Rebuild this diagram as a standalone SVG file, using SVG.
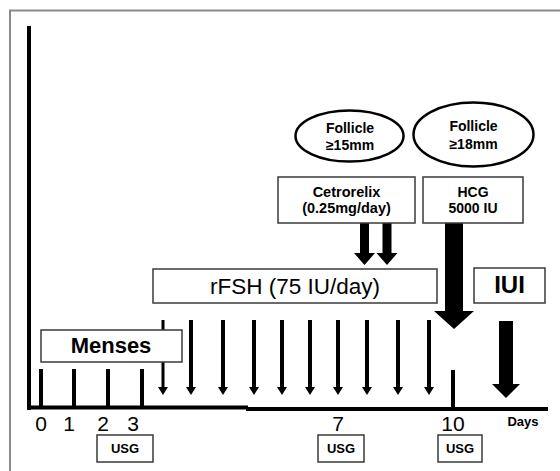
<svg xmlns="http://www.w3.org/2000/svg" width="560" height="471" viewBox="0 0 560 471">
<defs>
<marker id="dh" markerUnits="userSpaceOnUse" markerWidth="8" markerHeight="10" refX="0" refY="5" orient="auto" viewBox="0 0 8 10">
<path d="M0,0 L8,5 L0,10 Z" fill="#000"/>
</marker>
</defs>
<style>
.box{fill:#fff;stroke:#3a3a3a;stroke-width:1.5}
.oval{fill:#fff;stroke:#000;stroke-width:2.5}
.t{font-family:"Liberation Sans",Arial,sans-serif;fill:#000;text-anchor:middle}
.b{font-weight:bold}
.daily{stroke:#000;stroke-width:4;marker-end:url(#dh)}
.tick{stroke:#000;stroke-width:4}
.fat{fill:#000}
</style>
<rect width="560" height="471" fill="#fff"/>
<path d="M10,471 V10.5 H560" fill="none" stroke="#8a8a8a" stroke-width="2"/>

<g id="axes">
<line x1="29" y1="26" x2="29" y2="410" stroke="#000" stroke-width="4"/>
<line x1="27" y1="407.5" x2="248" y2="407.5" stroke="#000" stroke-width="4"/>
<line x1="246" y1="409" x2="548" y2="409" stroke="#000" stroke-width="4"/>
<line class="tick" x1="41" y1="369" x2="41" y2="408"/>
<line class="tick" x1="74" y1="369" x2="74" y2="408"/>
<line class="tick" x1="108" y1="369" x2="108" y2="408"/>
<line class="tick" x1="142" y1="369" x2="142" y2="408"/>
<line class="tick" x1="453" y1="370" x2="453" y2="409"/>
<text class="t" x="41" y="431" font-size="21">0</text>
<text class="t" x="69" y="431" font-size="21">1</text>
<text class="t" x="103" y="431" font-size="21">2</text>
<text class="t" x="133" y="431" font-size="21">3</text>
<text class="t" x="338" y="431" font-size="21">7</text>
<text class="t" x="453" y="431" font-size="21">10</text>
<text class="t b" x="523" y="426" font-size="13">Days</text>
</g>

<g id="connectors">
<line class="daily" x1="163" y1="320" x2="163" y2="387" style="stroke-width:3"/>
<line class="daily" x1="191" y1="320" x2="191" y2="387"/>
<line class="daily" x1="223" y1="320" x2="223" y2="387"/>
<line class="daily" x1="254" y1="320" x2="254" y2="387"/>
<line class="daily" x1="282" y1="320" x2="282" y2="387"/>
<line class="daily" x1="310" y1="320" x2="310" y2="387"/>
<line class="daily" x1="338" y1="320" x2="338" y2="387"/>
<line class="daily" x1="367" y1="320" x2="367" y2="387"/>
<line class="daily" x1="398" y1="320" x2="398" y2="387"/>
<line class="daily" x1="429" y1="320" x2="429" y2="387"/>
<path class="fat" d="M360,223 H369 V253 H375 L364.5,265 L354,253 H360 Z"/>
<path class="fat" d="M382.5,223 H391.5 V253 H397.5 L387,265 L376.5,253 H382.5 Z"/>
<path class="fat" d="M445,223 H463 V311 H474 L454,329 L434,311 H445 Z"/>
<path class="fat" d="M499,321 H513 V384 H520 L506,398 L492,384 H499 Z"/>
</g>

<g id="menses">
<rect class="box" x="41" y="330" width="141" height="32"/>
<text class="t b" x="111" y="353" font-size="22">Menses</text>
</g>
<g id="rfsh">
<rect class="box" x="153" y="269" width="284" height="34"/>
<text class="t" x="295" y="294" font-size="22.5">rFSH (75 IU/day)</text>
</g>
<g id="iui">
<rect class="box" x="474" y="268" width="71" height="35"/>
<text class="t b" x="509.5" y="293" font-size="24">IUI</text>
</g>
<g id="cetrorelix">
<rect class="box" x="278" y="177" width="137" height="46"/>
<text class="t b" x="346.5" y="197" font-size="14.5">Cetrorelix</text>
<text class="t b" x="346.5" y="213" font-size="14.5">(0.25mg/day)</text>
</g>
<g id="hcg">
<rect class="box" x="423" y="177" width="100" height="46"/>
<text class="t b" x="473" y="197" font-size="14">HCG</text>
<text class="t b" x="473" y="213" font-size="14">5000 IU</text>
</g>
<g id="follicle15">
<ellipse class="oval" cx="349.5" cy="136" rx="54" ry="25.5"/>
<text class="t b" x="350" y="133" font-size="14">Follicle</text>
<text class="t b" x="350" y="150" font-size="14">≥15mm</text>
</g>
<g id="follicle18">
<ellipse class="oval" cx="473.5" cy="134.5" rx="60" ry="32"/>
<text class="t b" x="473.5" y="131" font-size="14">Follicle</text>
<text class="t b" x="473.5" y="149" font-size="14">≥18mm</text>
</g>
<g id="usg1">
<rect class="box" x="97" y="435" width="56" height="27"/>
<text class="t b" x="125" y="453" font-size="13">USG</text>
</g>
<g id="usg2">
<rect class="box" x="318" y="435" width="46" height="27"/>
<text class="t b" x="341" y="453" font-size="13">USG</text>
</g>
<g id="usg3">
<rect class="box" x="438" y="435" width="44" height="27"/>
<text class="t b" x="460" y="453" font-size="13">USG</text>
</g>
</svg>
